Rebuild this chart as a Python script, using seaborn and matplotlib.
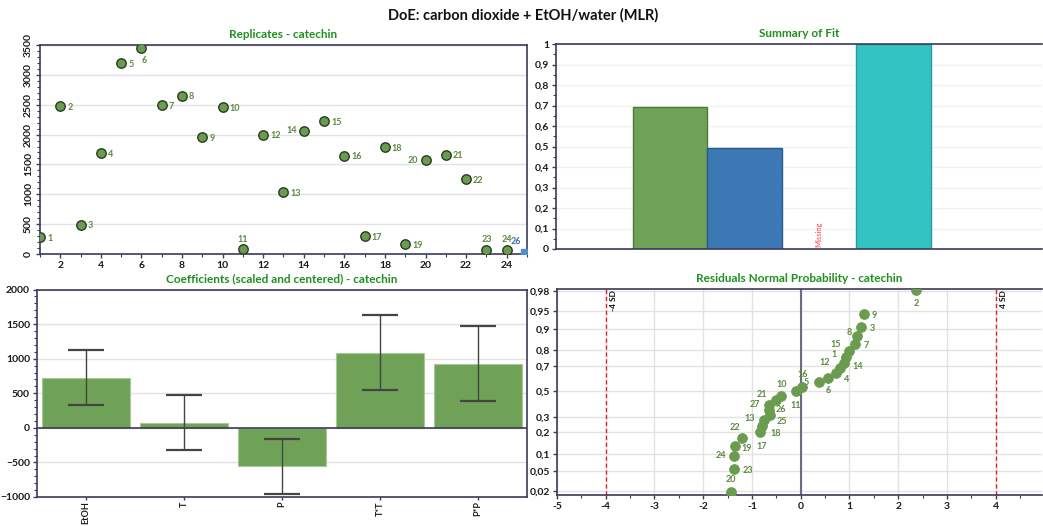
import numpy as np
import pandas as pd
import matplotlib
matplotlib.use("Agg")
import matplotlib.pyplot as plt
import seaborn as sns
from matplotlib.ticker import MultipleLocator, FixedLocator
from statistics import NormalDist

# ---------------- data ----------------
rep_runs = list(range(1, 25))
rep_values = [284, 2477, 494, 1693, 3199, 3449, 2494, 2653, 1955, 2460, 85, 2000,
              1034, 2063, 2233, 1648, 307, 1784, 165, 1574, 1665, 1261, 74, 74]
extra_run = ["26"]
extra_x = [24.9]
extra_y = [20]

fit_names = ["R2", "Q2", "Model validity", "Reproducibility"]
fit_present = ["R2", "Q2", "Reproducibility"]
fit_values = [0.695, 0.495, 1.0]
fit_missing = "Model validity"

coef_terms = ["EtOH", "T", "P", "T*T", "P*P"]
coef_values = [717, 63, -551, 1088, 927]
coef_low = [327, -322, -951, 546, 390]
coef_high = [1127, 468, -156, 1634, 1478]

res_runs = list(range(1, 28))
res_values = [0.93, 2.37, 1.24, 0.72, 0.37, 0.56, 1.12, 1.16, 1.29, -0.40, -0.10, 0.80,
              -0.76, 0.88, 0.99, 0.02, -0.83, -0.80, -1.35, -1.44, -0.50, -1.20, -1.36,
              -1.36, -0.64, -0.65, -0.66]
res_prob = [0.759, 0.9815, 0.907, 0.648, 0.574, 0.611, 0.833, 0.870, 0.944, 0.463, 0.500,
            0.685, 0.278, 0.722, 0.796, 0.537, 0.204, 0.241, 0.130, 0.019, 0.426, 0.167,
            0.056, 0.093, 0.315, 0.352, 0.389]
prob_ticks = [0.02, 0.05, 0.1, 0.2, 0.3, 0.5, 0.7, 0.8, 0.9, 0.95, 0.98]
sd_limits = [-4, 4]
sd_labels = ["-4 SD", "4 SD"]

# ---------------- style ----------------
sns.set_theme(style="white")
plt.rcParams['font.family'] = ['Lato', 'DejaVu Sans']

W, H = 1043, 526
fig = plt.figure(figsize=(W / 100, H / 100), dpi=100)


def frac(l, t, r, b):
    return [l / W, 1 - b / H, (r - l) / W, (b - t) / H]


SPINE = '#3b3b5c'
GREEN = '#6a9c4f'
LBL = '#5b8a3c'
TITLE_GREEN = '#1f8f1f'
GRID = '#e2e2e2'


def style(ax, title):
    for s in ax.spines.values():
        s.set_color(SPINE)
        s.set_linewidth(1.2)
    ax.tick_params(which='major', direction='out', length=3, width=1, color=SPINE,
                   labelsize=7.5, labelcolor='#1a1a1a', bottom=True, left=True, pad=2)
    ax.tick_params(which='minor', direction='out', length=2, width=0.8, color=SPINE,
                   bottom=True, left=True)
    for lab in ax.get_xticklabels() + ax.get_yticklabels():
        lab.set_fontweight('bold')
    ax.set_title(title, color=TITLE_GREEN, fontsize=8.5, fontweight='bold', pad=5)
    ax.set_xlabel('')
    ax.set_ylabel('')


fig.text(0.5015, 1 - 15 / H, "DoE: carbon dioxide + EtOH/water (MLR)", ha='center',
         va='center', fontsize=10.5, fontweight='bold', color='#111111')

# ---------------- Replicates ----------------
ax1 = fig.add_axes(frac(40, 45, 527, 254))
sns.scatterplot(x=rep_runs, y=rep_values, ax=ax1, color=GREEN, edgecolor='#2b3a22',
                linewidth=1.0, s=46, zorder=3)
ax1.scatter(extra_x, extra_y, marker='s', s=40, color='#4f8fd0', zorder=3, clip_on=True)
for r, xx, yy in zip(extra_run, extra_x, extra_y):
    ax1.annotate(r, (xx, yy), xytext=(-3, 5), textcoords='offset points', ha='right',
                 va='bottom', fontsize=6.5, color='#3f6fa8', fontweight='bold')
rep_off = {6: (2, -9, 'center'), 11: (0, 7, 'center'), 14: (-5, 0, 'right'),
           20: (-5, 0, 'right'), 23: (0, 7, 'center'), 24: (0, 7, 'center')}
for r, v in zip(rep_runs, rep_values):
    dx, dy, ha = rep_off.get(r, (5, -1, 'left'))
    ax1.annotate(str(r), (r, v), xytext=(dx, dy), textcoords='offset points', ha=ha,
                 va='center', fontsize=6.5, color=LBL, fontweight='bold')
ax1.set_xlim(1, 25)
ax1.set_ylim(0, 3500)
ax1.xaxis.set_major_locator(FixedLocator(list(range(2, 25, 2))))
ax1.xaxis.set_minor_locator(MultipleLocator(1))
ax1.yaxis.set_major_locator(MultipleLocator(500))
ax1.yaxis.set_minor_locator(MultipleLocator(100))
ax1.yaxis.grid(True, color=GRID, lw=1)
ax1.set_axisbelow(True)
style(ax1, "Replicates - catechin")
for lab in ax1.get_yticklabels():
    lab.set_rotation(90)
    lab.set_va('center')

# ---------------- Summary of Fit ----------------
ax2 = fig.add_axes(frac(556, 44, 1042, 249))
fit_df = pd.DataFrame({"metric": fit_present, "value": fit_values})
fit_pal = {"R2": '#6fa256', "Q2": '#3c78b4', "Reproducibility": '#33c3c3'}
fit_edge = {"R2": '#4d7a3a', "Q2": '#2a5a8c', "Reproducibility": '#2a9a9a'}
sns.barplot(data=fit_df, x="metric", y="value", order=fit_names, hue="metric",
            hue_order=fit_present, palette=fit_pal, width=1.0, legend=False, ax=ax2,
            linewidth=1.0, saturation=1)
for p, name in zip(ax2.patches, fit_present):
    p.set_edgecolor(fit_edge[name])
ax2.text(fit_names.index(fit_missing), 0.012, "Missing", rotation=90, ha='center',
         va='bottom', fontsize=5.5, color='#ff4040')
ax2.set_xlim(-1.53, 4.99)
ax2.set_ylim(0, 1)
ax2.set_xticks([])
ax2.yaxis.set_major_locator(MultipleLocator(0.1))
ax2.yaxis.set_minor_locator(MultipleLocator(0.05))
ax2.yaxis.grid(True, color='#f0f0f0', lw=1)
ax2.set_axisbelow(True)
style(ax2, "Summary of Fit")
ax2.set_yticks(np.round(np.arange(0, 1.01, 0.1), 1))
ax2.set_yticklabels([("%g" % t).replace('.', ',') for t in np.round(np.arange(0, 1.01, 0.1), 1)],
                    fontweight='bold')
ax2.spines['right'].set_visible(False)

# ---------------- Coefficients ----------------
ax3 = fig.add_axes(frac(37, 289.5, 527, 497))
sns.barplot(x=coef_terms, y=coef_values, color='#6fa256', width=0.9, saturation=1,
            edgecolor='#a9c79a', linewidth=0.8, ax=ax3, zorder=2)
cv = np.array(coef_values)
yerr = [cv - np.array(coef_low), np.array(coef_high) - cv]
ax3.errorbar(np.arange(len(coef_terms)), cv, yerr=yerr, fmt='none', ecolor='#444444',
             elinewidth=1.0, capsize=13, capthick=1.6, zorder=4)
ax3.axhline(0, color=SPINE, lw=1.2, zorder=3)
ax3.set_xlim(-0.5, 4.5)
ax3.set_ylim(-1000, 2000)
ax3.yaxis.set_major_locator(MultipleLocator(500))
ax3.yaxis.set_minor_locator(MultipleLocator(100))
ax3.yaxis.grid(True, color=GRID, lw=1)
ax3.set_axisbelow(True)
style(ax3, "Coefficients (scaled and centered) - catechin")
ax3.tick_params(axis='x', which='major', labelrotation=90, labelsize=6.5, pad=0.5, length=2.5)

# ---------------- Residuals Normal Probability ----------------
ax4 = fig.add_axes(frac(557, 289, 1042, 495))
nd = NormalDist()
res_z = [nd.inv_cdf(p) for p in res_prob]
for v, lab in zip(sd_limits, sd_labels):
    ax4.axvline(v, color='#e02525', lw=1.0, ls=(0, (3, 2)), zorder=2)
    ax4.text(v + 0.08, 2.08, lab, rotation=90, ha='left', va='top', fontsize=6,
             fontweight='bold', color='#111111')
ax4.axvline(0, color='#6b6b82', lw=1.5, zorder=2)
sns.scatterplot(x=res_values, y=res_z, ax=ax4, color=GREEN, edgecolor=GREEN, s=50,
                zorder=4, clip_on=True)
res_off = {2: (0, -10, 'center'), 9: (6, -1, 'left'), 3: (6, -1, 'left'),
           8: (-4, 3, 'right'), 7: (6, -1, 'left'), 15: (-6, 5, 'right'),
           1: (-7, 2, 'right'), 14: (6, -3, 'left'), 12: (-7, 4, 'right'),
           4: (6, -5, 'left'), 6: (0, -9, 'center'), 5: (-7, 0, 'right'),
           16: (1, 9, 'center'), 11: (0, -10, 'center'), 10: (0, 8, 'center'),
           21: (-7, 4, 'right'), 27: (-6, 0, 'right'), 26: (5, 0, 'left'),
           25: (5, -5, 'left'), 13: (-6, 1, 'right'), 18: (6, -6, 'left'),
           17: (1, -11, 'center'), 22: (-5, 8, 'center'), 19: (5, -2, 'left'),
           24: (-6, 0, 'right'), 23: (6, -1, 'left'), 20: (0, 9, 'center')}
for r, xv, zv in zip(res_runs, res_values, res_z):
    dx, dy, ha = res_off.get(r, (6, 0, 'left'))
    ax4.annotate(str(r), (xv, zv), xytext=(dx, dy), textcoords='offset points', ha=ha,
                 va='center', fontsize=6.5, color=LBL, fontweight='bold')
ax4.set_xlim(-5, 4.95)
ax4.set_ylim(-2.13, 2.10)
ax4.xaxis.set_major_locator(MultipleLocator(1))
ax4.xaxis.set_minor_locator(MultipleLocator(0.5))
ax4.set_yticks([nd.inv_cdf(p) for p in prob_ticks])
ax4.grid(True, which='major', color=GRID, lw=1)
ax4.set_axisbelow(True)
style(ax4, "Residuals Normal Probability - catechin")
ax4.set_yticklabels([("%g" % p).replace('.', ',') for p in prob_ticks], fontweight='bold')
ax4.set_xticks(list(range(-5, 5)))
ax4.set_xticklabels([str(t) for t in range(-5, 5)], fontweight='bold')
ax4.spines['right'].set_visible(False)

fig.savefig("out.png", dpi=100)
